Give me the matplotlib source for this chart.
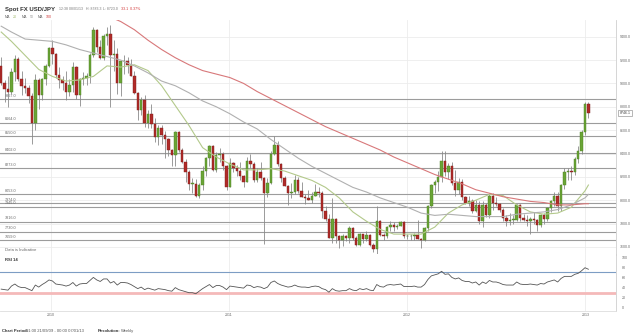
#!/usr/bin/env python
# encoding: utf-8

"""Weekly USD/JPY candles with moving averages and RSI 14"""

import matplotlib
matplotlib.use("Agg")
import matplotlib.pyplot as plt
import pandas as pd

plt.rcParams["font.family"] = ["Liberation Sans", "DejaVu Sans"]

first_week = "2009-09-21"

opens = [
    91.50, 90.00, 89.50, 89.30, 91.00, 92.10, 90.40, 89.80, 89.60, 88.90,
    86.60, 90.30, 89.00, 90.40, 91.50, 93.00, 92.50, 90.70, 90.30, 90.00,
    89.30, 89.90, 91.40, 89.00, 90.40, 90.50, 90.60, 92.40, 94.60, 93.10,
    92.20, 94.10, 94.20, 92.40, 92.50, 90.00, 91.90, 91.90, 91.60, 90.60,
    89.20, 87.70, 88.60, 86.60, 87.40, 86.50, 85.40, 86.20, 85.60, 85.20,
    84.30, 83.90, 85.80, 84.30, 83.30, 82.40, 81.40, 81.40, 80.40, 81.30,
    82.50, 83.60, 84.60, 82.60, 83.90, 84.00, 82.90, 81.10, 83.20, 82.80,
    82.50, 82.10, 81.60, 83.40, 83.10, 81.70, 82.40, 81.90, 80.60, 81.50,
    84.00, 84.70, 83.10, 81.90, 81.20, 80.60, 80.70, 81.70, 80.80, 80.30,
    80.20, 80.00, 80.40, 80.70, 80.60, 79.10, 78.40, 76.80, 78.40, 76.90,
    76.60, 76.90, 76.80, 77.60, 76.80, 76.20, 77.10, 76.70, 77.00, 76.20,
    75.80, 78.20, 77.00, 76.90, 77.70, 77.90, 77.70, 77.80, 78.10, 76.90,
    76.90, 76.90, 77.00, 76.70, 76.60, 77.60, 79.50, 81.30, 81.60, 82.00,
    83.40, 82.40, 82.90, 81.50, 80.90, 81.60, 80.30, 79.80, 79.90, 79.10,
    79.60, 78.20, 79.60, 78.70, 80.40, 79.80, 79.70, 79.20, 78.50, 78.20,
    78.30, 78.30, 79.60, 78.50, 78.30, 78.20, 78.40, 78.30, 77.90, 78.70,
    78.40, 79.30, 79.90, 80.40, 79.50, 81.30, 82.40, 82.50, 82.40, 83.50,
    84.20, 85.80, 88.20,
]
highs = [
    92.30, 90.30, 90.60, 91.30, 92.40, 92.30, 91.10, 90.50, 89.90, 89.20,
    90.80, 90.50, 90.50, 91.70, 93.10, 93.75, 92.60, 91.40, 90.60, 91.10,
    90.40, 91.80, 91.50, 90.50, 91.00, 90.90, 92.60, 94.80, 94.70, 93.70,
    94.20, 94.80, 94.99, 93.70, 93.00, 91.90, 92.40, 92.30, 92.10, 91.10,
    89.30, 88.80, 89.00, 87.70, 88.20, 87.00, 86.40, 86.40, 85.90, 85.30,
    84.40, 85.90, 85.90, 84.50, 83.50, 82.60, 81.90, 81.80, 81.50, 82.90,
    83.70, 84.70, 84.70, 84.10, 84.50, 84.10, 83.00, 83.60, 83.30, 83.00,
    83.30, 82.20, 83.70, 84.00, 83.30, 82.80, 83.30, 82.00, 81.90, 84.20,
    85.50, 85.10, 83.20, 82.10, 81.30, 81.50, 82.20, 82.00, 81.60, 80.50,
    80.90, 80.70, 81.40, 81.10, 80.80, 79.50, 78.80, 80.20, 78.50, 77.00,
    77.10, 77.00, 77.80, 77.70, 76.90, 77.20, 77.10, 77.40, 77.10, 76.30,
    79.50, 78.30, 77.20, 77.80, 78.20, 78.10, 78.00, 78.20, 78.20, 77.10,
    77.10, 77.20, 78.30, 76.80, 77.70, 79.60, 81.40, 81.70, 82.50, 84.20,
    84.20, 83.20, 83.30, 82.60, 81.90, 81.80, 80.40, 80.40, 80.10, 80.00,
    79.90, 79.90, 79.80, 80.60, 80.60, 80.30, 79.80, 79.30, 78.70, 78.90,
    78.70, 79.70, 79.70, 78.80, 78.70, 78.60, 79.00, 78.40, 78.80, 78.90,
    79.40, 80.00, 80.70, 80.70, 81.40, 82.80, 82.80, 82.90, 83.70, 84.60,
    86.00, 88.40, 88.40,
]
lows = [
    89.90, 88.40, 88.00, 89.10, 90.20, 90.20, 89.00, 89.20, 88.30, 84.85,
    86.00, 87.80, 88.60, 89.90, 91.40, 91.70, 90.50, 89.60, 89.40, 88.60,
    88.90, 89.30, 88.70, 88.10, 89.90, 89.90, 90.00, 92.30, 92.70, 92.10,
    92.00, 93.30, 88.00, 91.10, 89.10, 88.90, 90.80, 90.90, 90.60, 89.10,
    86.90, 87.30, 86.30, 86.20, 86.20, 85.00, 84.70, 84.80, 83.60, 83.80,
    82.90, 82.90, 84.10, 83.20, 81.60, 80.90, 80.60, 80.30, 80.20, 80.90,
    82.10, 82.90, 82.50, 82.40, 83.30, 82.60, 80.90, 81.10, 82.40, 82.10,
    81.70, 81.10, 81.60, 82.80, 81.60, 81.60, 81.70, 76.25, 80.30, 81.40,
    83.90, 82.90, 81.60, 81.20, 79.60, 80.20, 80.50, 80.60, 80.30, 79.70,
    80.00, 79.80, 80.40, 80.30, 78.50, 78.20, 76.80, 76.30, 76.30, 75.95,
    76.10, 76.50, 76.30, 76.60, 76.10, 76.10, 76.30, 76.50, 76.10, 75.60,
    75.35, 76.90, 76.60, 76.80, 77.40, 77.40, 77.50, 77.80, 76.80, 76.70,
    76.60, 76.60, 76.70, 75.90, 76.50, 77.40, 79.30, 80.60, 80.80, 81.60,
    82.10, 81.80, 81.30, 80.40, 80.50, 80.00, 79.70, 79.50, 78.90, 79.00,
    78.00, 77.70, 78.60, 78.50, 79.20, 79.50, 79.00, 78.20, 77.80, 77.90,
    78.00, 78.20, 78.20, 78.20, 77.80, 77.10, 78.00, 77.40, 77.70, 78.00,
    78.20, 79.00, 79.50, 79.10, 79.10, 81.00, 81.70, 81.70, 82.20, 83.20,
    84.00, 85.60, 87.00,
]
closes = [
    90.00, 89.50, 89.30, 91.00, 92.10, 90.40, 89.80, 89.60, 88.90, 86.60,
    90.30, 89.00, 90.40, 91.50, 93.00, 92.50, 90.70, 90.30, 90.00, 89.30,
    89.90, 91.40, 89.00, 90.40, 90.50, 90.60, 92.40, 94.60, 93.10, 92.20,
    94.10, 94.20, 92.40, 92.50, 90.00, 91.90, 91.90, 91.60, 90.60, 89.20,
    87.70, 88.60, 86.60, 87.40, 86.50, 85.40, 86.20, 85.60, 85.20, 84.30,
    83.90, 85.80, 84.30, 83.30, 82.40, 81.40, 81.40, 80.40, 81.30, 82.50,
    83.60, 84.60, 82.60, 83.90, 84.00, 82.90, 81.10, 83.20, 82.80, 82.50,
    82.10, 81.60, 83.40, 83.10, 81.70, 82.40, 81.90, 80.60, 81.50, 84.00,
    84.70, 83.10, 81.90, 81.20, 80.60, 80.70, 81.70, 80.80, 80.30, 80.20,
    80.00, 80.40, 80.70, 80.60, 79.10, 78.40, 76.80, 78.40, 76.90, 76.60,
    76.90, 76.80, 77.60, 76.80, 76.20, 77.10, 76.70, 77.00, 76.20, 75.80,
    78.20, 77.00, 76.90, 77.70, 77.90, 77.70, 77.80, 78.10, 76.90, 76.90,
    76.90, 77.00, 76.70, 76.60, 77.60, 79.50, 81.30, 81.60, 82.00, 83.40,
    82.40, 82.90, 81.50, 80.90, 81.60, 80.30, 79.80, 79.90, 79.10, 79.60,
    78.20, 79.60, 78.70, 80.40, 79.80, 79.70, 79.20, 78.50, 78.20, 78.30,
    78.30, 79.60, 78.50, 78.30, 78.20, 78.40, 78.30, 77.90, 78.70, 78.40,
    79.30, 79.90, 80.40, 79.50, 81.30, 82.40, 82.50, 82.40, 83.50, 84.20,
    85.80, 88.20, 87.461,
]

# moving averages, at these week numbers
ma_weeks = [0, 3, 7, 11, 15, 19, 23, 27, 31, 35, 39, 43, 47, 51, 55,
            59, 63, 67, 71, 75, 79, 83, 87, 91, 95, 99, 103, 107, 111, 115,
            119, 123, 127, 131, 135, 139, 143, 147, 151, 155, 159, 163, 167,
            171, 172]
ma20 = [94.4, 93.6, 92.4, 91.2, 90.6, 90.2, 90.3, 90.6, 91.5, 91.4,
        91.6, 91.1, 89.8, 88.1, 86.4, 84.5, 83.7, 83.1, 82.6, 82.6,
        82.7, 82.5, 82.1, 81.7, 81.1, 80.2, 79.0, 78.2, 77.5, 77.1,
        77.1, 77.1, 77.7, 78.9, 79.6, 80.0, 80.5, 80.4, 79.6, 79.0,
        78.8, 78.9, 79.4, 80.8, 81.3]
ma50 = [94.9, 94.4, 93.8, 93.7, 93.6, 93.3, 92.9, 92.6, 92.3, 92.0,
        91.5, 90.9, 90.2, 89.8, 89.2, 88.5, 88.0, 87.4, 86.7, 86.1,
        85.2, 84.4, 83.6, 82.9, 82.3, 81.7, 81.1, 80.7, 80.2, 79.8,
        79.4, 78.9, 78.7, 78.8, 78.7, 78.6, 78.6, 78.6, 78.8, 78.9,
        79.0, 79.2, 79.6, 80.2, 80.5]
ma100 = [100.8, 100.3, 99.4, 98.5, 97.8, 97.3, 96.8, 96.3, 95.8, 95.3,
         94.6, 93.7, 92.9, 92.2, 91.6, 91.1, 90.8, 90.5, 90.0, 89.3,
         88.7, 88.1, 87.5, 86.9, 86.3, 85.8, 85.3, 84.8, 84.3, 83.7,
         83.2, 82.7, 82.2, 81.8, 81.4, 80.9, 80.6, 80.3, 80.1, 79.9,
         79.8, 79.6, 79.6, 79.7, 79.7]

rsi14 = [
    37, 36, 35, 43, 47, 42, 40, 40, 37, 34,
    45, 41, 46, 50, 55, 53, 47, 46, 45, 43,
    45, 50, 43, 47, 48, 48, 54, 60, 55, 52,
    57, 57, 49, 52, 45, 50, 50, 49, 46, 42,
    38, 41, 36, 39, 37, 35, 38, 37, 36, 34,
    33, 40, 36, 34, 32, 30, 30, 28, 33, 38,
    42, 46, 40, 44, 44, 41, 36, 43, 42, 41,
    40, 39, 45, 44, 40, 42, 41, 38, 41, 50,
    53, 48, 45, 43, 41, 42, 45, 42, 41, 41,
    40, 42, 43, 42, 38, 36, 31, 38, 34, 33,
    34, 34, 38, 35, 34, 38, 36, 38, 35, 34,
    46, 42, 41, 45, 46, 45, 46, 47, 42, 42,
    42, 43, 41, 41, 46, 56, 63, 65, 67, 72,
    66, 67, 60, 57, 59, 54, 52, 52, 49, 51,
    45, 51, 48, 54, 51, 51, 49, 46, 45, 45,
    45, 51, 47, 46, 46, 47, 46, 45, 48, 47,
    51, 53, 55, 51, 58, 62, 62, 62, 66, 68,
    73, 79, 76,
]

# support / resistance levels drawn across the chart
levels = [88.67, 86.64, 85.50, 84.02, 82.73, 80.53, 79.74, 79.45,
          78.16, 77.30, 76.59]

price_ticks = [76, 78, 80, 82, 84, 86, 88, 90, 92, 94]
rsi_ticks = [0, 20, 40, 60, 80, 100]
year_starts = ["2010-01-01", "2011-01-01", "2012-01-01", "2013-01-01"]
year_labels = ["2010", "2011", "2012", "2013"]

W, H = 639, 335


def box(x0, y0, x1, y1):
    return [x0 / W, 1 - y1 / H, (x1 - x0) / W, (y1 - y0) / H]


def px(x, y):
    return x / W, 1 - y / H


weeks = pd.date_range(first_week, periods=len(closes), freq="7D")
start = pd.Timestamp(first_week)

figure = plt.figure(figsize=(W / 100, H / 100), dpi=100)
price_axes = figure.add_axes(box(0, 20, 616, 255))
rsi_axes = figure.add_axes(box(0, 254, 616, 311), sharex=price_axes)

grid_color = "#ececec"
label_color = "#666666"

# candles
up_color, up_edge = "#6aa536", "#4c7d22"
down_color, down_edge = "#b12b28", "#7c1c1a"
price_axes.vlines(weeks, lows, highs, color="#8a8a8a", lw=0.6, zorder=3)
body_bottom = [min(o, c) for o, c in zip(opens, closes)]
body_height = [max(abs(c - o), 0.05) for o, c in zip(opens, closes)]
face = [up_color if c >= o else down_color for o, c in zip(opens, closes)]
edge = [up_edge if c >= o else down_edge for o, c in zip(opens, closes)]
price_axes.bar(weeks, body_height, bottom=body_bottom, width=5,
               color=face, edgecolor=edge, linewidth=0.3, zorder=4)

# moving averages
ma_dates = weeks[ma_weeks]
price_axes.plot(ma_dates, ma20, color="#b3c98b", lw=0.8, zorder=5)
price_axes.plot(ma_dates, ma50, color="#b0b0b0", lw=0.8, zorder=5)
price_axes.plot(ma_dates, ma100, color="#d8787a", lw=0.8, zorder=5)

# levels with their labels on the left
for level in levels:
    price_axes.axhline(level, color="#9c9c9c", lw=0.8, zorder=2)
    price_axes.text(0.008, level + 0.12, "{:.1f}".format(level * 100),
                    transform=price_axes.get_yaxis_transform(),
                    fontsize=2.7, color=label_color, va="bottom", zorder=2.5)

price_axes.text(0.008, 75.75, "Data is Indicative",
                transform=price_axes.get_yaxis_transform(),
                fontsize=3, color=label_color, va="center")

left_day = start - pd.Timedelta(days=2.46)
right_day = start + pd.Timedelta(days=1260.6)
price_axes.set_xlim(left_day, right_day)
price_axes.set_ylim(75.31, 95.43)
price_axes.set_yticks(price_ticks)
price_axes.yaxis.set_major_formatter(
    plt.FuncFormatter(lambda v, p: "{:.1f}".format(v * 100)))
price_axes.yaxis.tick_right()
price_axes.tick_params(axis="y", length=0, pad=2.5, labelsize=2.6,
                       labelcolor=label_color)
price_axes.set_xticks(pd.to_datetime(year_starts))
price_axes.tick_params(axis="x", length=0, labelbottom=False)
price_axes.grid(True, color=grid_color, lw=0.6, zorder=0)
price_axes.set_axisbelow(True)
for side in ["top", "left", "bottom"]:
    price_axes.spines[side].set_visible(False)
price_axes.spines["right"].set_color("#cfcfcf")
price_axes.spines["right"].set_linewidth(0.6)

# last price tag
price_axes.text(1.006, closes[-1], "{:.1f}".format(closes[-1] * 100),
                transform=price_axes.get_yaxis_transform(), fontsize=2.6,
                color="#444444", va="center", ha="left", clip_on=False,
                bbox=dict(boxstyle="square,pad=0.35", fc="white",
                          ec="#9a9a9a", lw=0.5))

# RSI panel
rsi_axes.plot(weeks, rsi14, color="#555555", lw=0.6, zorder=4)
rsi_axes.axhline(70, color="#7d9dc4", lw=0.8, zorder=3)
rsi_axes.axhline(30, color="#f4b9b9", lw=2.0, zorder=3)
rsi_axes.set_ylim(-5.9, 105.9)
rsi_axes.set_yticks(rsi_ticks)
rsi_axes.yaxis.tick_right()
rsi_axes.tick_params(axis="y", length=0, pad=4, labelsize=2.6,
                     labelcolor=label_color)
rsi_axes.set_xticks(pd.to_datetime(year_starts))
rsi_axes.set_xticklabels(year_labels)
rsi_axes.tick_params(axis="x", length=0, pad=1.5, labelsize=2.6,
                     labelcolor=label_color, labelbottom=True)
rsi_axes.grid(True, axis="x", color=grid_color, lw=0.6, zorder=0)
for side in ["top", "left"]:
    rsi_axes.spines[side].set_visible(False)
rsi_axes.spines["right"].set_color("#cfcfcf")
rsi_axes.spines["right"].set_linewidth(0.6)
rsi_axes.spines["bottom"].set_color("#dddddd")
rsi_axes.spines["bottom"].set_linewidth(0.6)
rsi_axes.text(0.008, 0.9, "RSI 14", transform=rsi_axes.transAxes,
              fontsize=3, fontweight="bold", color="#333333", va="center")

# header
figure.text(*px(5, 9), "Spot FX USD/JPY", fontsize=4.3, fontweight="bold",
            color="#333333", va="center")
figure.text(*px(59, 9), "12:38 08/01/13", fontsize=2.5, color="#777777",
            va="center")
figure.text(*px(86, 9), "H: 8783.3", fontsize=2.5, color="#777777",
            va="center")
figure.text(*px(103, 9), "L: 8723.0", fontsize=2.5, color="#777777",
            va="center")
figure.text(*px(121, 9), "-33.1", fontsize=2.5, color="#d03030",
            va="center")
figure.text(*px(130, 9), "-0.37%", fontsize=2.5, color="#d03030",
            va="center")

legend_items = [(5, "MA", "#666666"), (13, "20", "#9fb86a"),
                (22, "MA", "#666666"), (30, "50", "#999999"),
                (38, "MA", "#666666"), (46, "100", "#d03a3a")]
for x, text, color in legend_items:
    figure.text(*px(x, 17.5), text, fontsize=2.6, color=color, va="center")

# footer
figure.text(*px(2, 331), "Chart Period:", fontsize=3, fontweight="bold",
            color="#333333", va="center")
figure.text(*px(26, 331), "01:00 21/09/09 - 00:00 07/01/13", fontsize=3,
            color="#555555", va="center")
figure.text(*px(98, 331), "Resolution:", fontsize=3, fontweight="bold",
            color="#333333", va="center")
figure.text(*px(121, 331), "Weekly", fontsize=3, color="#555555",
            va="center")

plt.savefig("out.png", dpi=100)
